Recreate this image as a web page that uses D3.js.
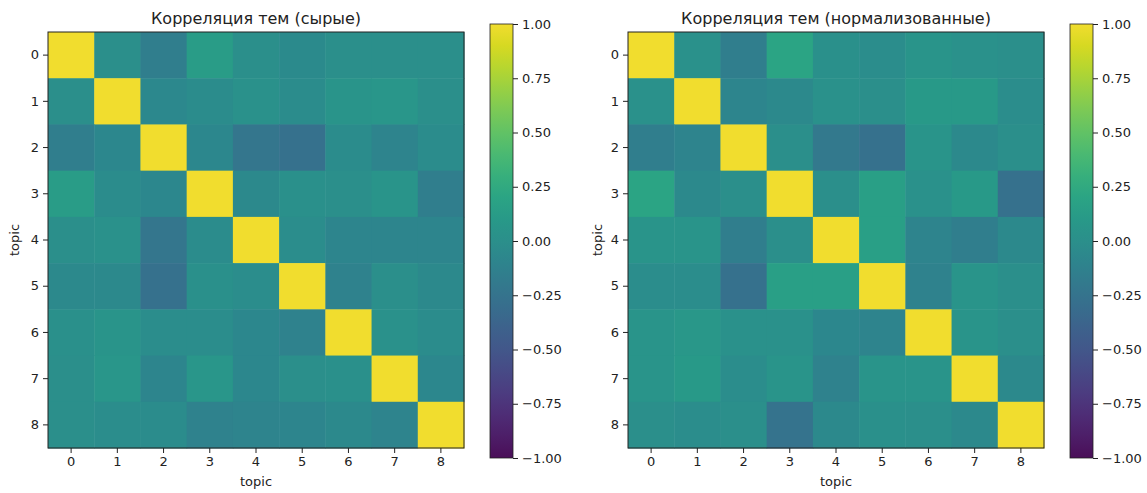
<!DOCTYPE html>
<html>
<head>
<meta charset="utf-8">
<script src="https://cdn.jsdelivr.net/npm/d3@7"></script>
<style>
  body { margin: 0; background: #fff; }
  svg text { font-family: "DejaVu Sans", sans-serif; fill: #222; }
</style>
</head>
<body>
<div id="svg-container"></div>
<script>
////////////////////////////////////////////////////////////////////
////////////////////////////  Data  ////////////////////////////////

const topics = [0, 1, 2, 3, 4, 5, 6, 7, 8];
const cbTicks = [1, 0.75, 0.5, 0.25, 0, -0.25, -0.5, -0.75, -1];
const titles = ["Корреляция тем (сырые)", "Корреляция тем (нормализованные)"];

// сырые
const rawCorr = [
  [1.00, 0.00, -0.15, 0.12, 0.00, -0.04, 0.00, 0.00, 0.00],
  [0.00, 1.00, -0.06, -0.03, 0.03, -0.03, 0.05, 0.07, 0.00],
  [-0.15, -0.07, 1.00, -0.07, -0.22, -0.28, -0.03, -0.10, -0.03],
  [0.12, -0.03, -0.07, 1.00, -0.05, 0.02, 0.00, 0.05, -0.15],
  [0.00, 0.03, -0.22, -0.03, 1.00, -0.02, -0.08, -0.08, -0.08],
  [-0.05, -0.05, -0.28, 0.02, -0.02, 1.00, -0.12, 0.00, -0.05],
  [0.02, 0.05, -0.02, -0.02, -0.07, -0.12, 1.00, 0.03, -0.03],
  [0.00, 0.07, -0.08, 0.07, -0.07, 0.00, 0.02, 1.00, -0.07],
  [0.00, -0.02, -0.03, -0.12, -0.10, -0.08, -0.05, -0.10, 1.00]
];

// нормализованные
const normCorr = [
  [1.00, 0.03, -0.15, 0.20, 0.02, -0.02, 0.05, 0.03, 0.00],
  [0.03, 1.00, -0.08, -0.05, 0.03, 0.00, 0.10, 0.10, -0.02],
  [-0.15, -0.10, 1.00, 0.00, -0.20, -0.28, 0.05, -0.05, 0.00],
  [0.20, -0.05, 0.00, 1.00, 0.00, 0.15, 0.03, 0.10, -0.28],
  [0.05, 0.05, -0.15, 0.00, 1.00, 0.15, -0.10, -0.15, -0.05],
  [-0.02, -0.02, -0.28, 0.15, 0.15, 1.00, -0.12, 0.05, 0.00],
  [0.05, 0.08, 0.03, 0.03, -0.07, -0.10, 1.00, 0.05, 0.00],
  [0.05, 0.10, -0.02, 0.05, -0.12, 0.05, 0.05, 1.00, -0.05],
  [0.00, -0.02, 0.00, -0.26, -0.05, 0.02, 0.00, -0.05, 1.00]
];

////////////////////////////////////////////////////////////////////
////////////////////////////  Init  ////////////////////////////////

const width = 1147, height = 493;
const svg = d3.select("#svg-container").append("svg")
  .attr("width", width).attr("height", height);

const size = 416;          // сторона тепловой карты
const plotTop = 32;
const cb = { top: 24, bottom: 458, w: 23 };

// viridis, чуть приглушённый (как на скриншоте)
const muted = t => d3.interpolateRgb(d3.interpolateViridis(t), "#808080")(0.1);
const color = d3.scaleSequential(muted).domain([-1, 1]);

const panels = [
  { left: 48, cbX: 490, title: titles[0], data: rawCorr, ylabX: 14 },
  { left: 628, cbX: 1070, title: titles[1], data: normCorr, ylabX: 597 }
];

// градиент для colorbar
const defs = svg.append("defs");
const grad = defs.append("linearGradient").attr("id", "viridis")
  .attr("x1", 0).attr("y1", 1).attr("x2", 0).attr("y2", 0);
d3.range(0, 1.0001, 0.05).forEach(t => {
  grad.append("stop").attr("offset", t).attr("stop-color", muted(t));
});

panels.forEach(p => {
  const g = svg.append("g").attr("transform", `translate(${p.left}, ${plotTop})`);

  const x = d3.scaleBand().domain(topics).range([0, size]);
  const y = d3.scaleBand().domain(topics).range([0, size]);

  const cells = [];
  p.data.forEach((row, i) => row.forEach((v, j) => cells.push({ i, j, v })));

  g.selectAll("rect.cell")
    .data(cells)
    .enter()
    .append("rect")
    .attr("class", "cell")
    .attr("x", d => x(d.j))
    .attr("y", d => y(d.i))
    .attr("width", x.bandwidth() + 0.5)
    .attr("height", y.bandwidth() + 0.5)
    .attr("fill", d => color(d.v));

  g.append("rect")
    .attr("width", size).attr("height", size)
    .attr("fill", "none").attr("stroke", "#222").attr("stroke-width", 1);

  // axes
  const xAxis = g.append("g").attr("transform", `translate(0, ${size})`)
    .call(d3.axisBottom(x).tickSize(5).tickPadding(4));
  const yAxis = g.append("g")
    .call(d3.axisLeft(y).tickSize(5).tickPadding(4));
  [xAxis, yAxis].forEach(a => {
    a.select(".domain").remove();
    a.selectAll("text").style("font-size", "13px").attr("fill", "#222")
      .style("font-family", "DejaVu Sans, sans-serif");
    a.selectAll("line").attr("stroke", "#222");
  });

  g.append("text")
    .attr("x", size / 2).attr("y", size + 38)
    .attr("text-anchor", "middle")
    .style("font-size", "13px")
    .text("topic");

  svg.append("text")
    .attr("transform", `translate(${p.ylabX}, ${plotTop + size / 2}) rotate(-90)`)
    .attr("text-anchor", "middle")
    .attr("dy", "0.35em")
    .style("font-size", "13px")
    .text("topic");

  g.append("text")
    .attr("x", size / 2).attr("y", -8)
    .attr("text-anchor", "middle")
    .style("font-size", "16px")
    .text(p.title);

  // colorbar
  const cbScale = d3.scaleLinear().domain([-1, 1]).range([cb.bottom, cb.top]);
  svg.append("rect")
    .attr("x", p.cbX).attr("y", cb.top)
    .attr("width", cb.w).attr("height", cb.bottom - cb.top)
    .attr("fill", "url(#viridis)")
    .attr("stroke", "#222").attr("stroke-width", 0.8);

  const cbAxis = svg.append("g")
    .attr("transform", `translate(${p.cbX + cb.w}, 0)`)
    .call(d3.axisRight(cbScale).tickValues(cbTicks).tickSize(5).tickPadding(4)
      .tickFormat(d3.format(".2f")));
  cbAxis.select(".domain").remove();
  cbAxis.selectAll("text").style("font-size", "13px").attr("fill", "#222")
    .style("font-family", "DejaVu Sans, sans-serif");
  cbAxis.selectAll("line").attr("stroke", "#222");
});
</script>
</body>
</html>
